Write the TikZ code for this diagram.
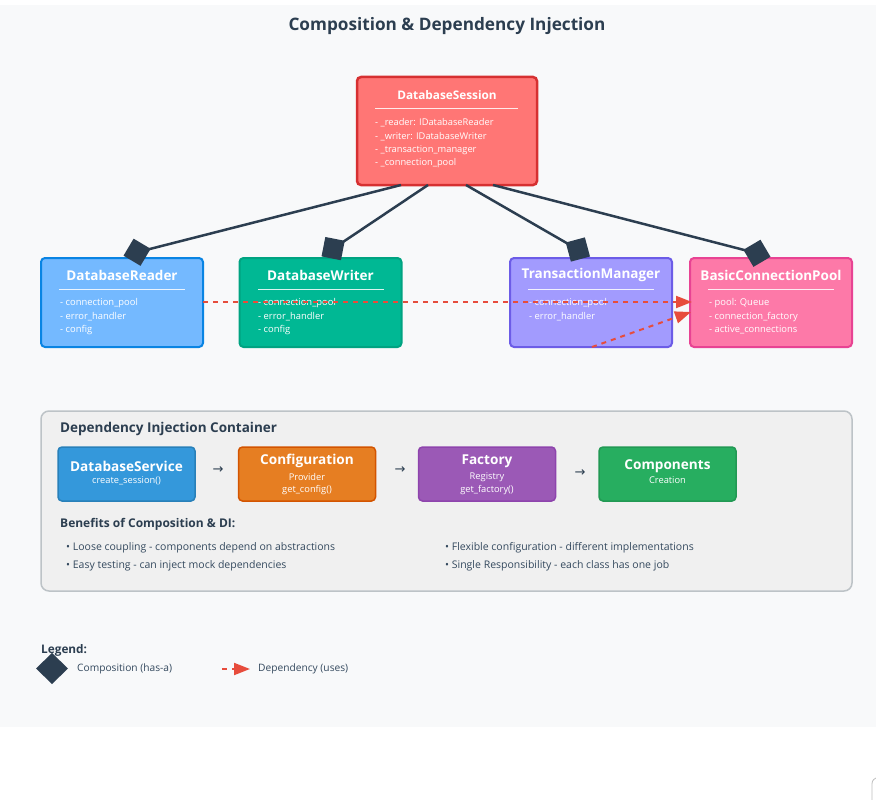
\documentclass[tikz,border=0pt]{standalone}
\usepackage{fontspec}
\setmainfont{Open Sans}
\newfontfamily\symfont{DejaVu Sans}
\usetikzlibrary{arrows.meta}
\definecolor{panel}{HTML}{F8F9FA}
\definecolor{ink}{HTML}{2C3E50}
\definecolor{txt}{HTML}{34495E}
\definecolor{sessF}{HTML}{FF7675}\definecolor{sessD}{HTML}{D63031}
\definecolor{readF}{HTML}{74B9FF}\definecolor{readD}{HTML}{0984E3}
\definecolor{writF}{HTML}{00B894}\definecolor{writD}{HTML}{00A381}
\definecolor{tranF}{HTML}{A29BFE}\definecolor{tranD}{HTML}{6C5CE7}
\definecolor{poolF}{HTML}{FD79A8}\definecolor{poolD}{HTML}{E84393}
\definecolor{depC}{HTML}{E74C3C}
\definecolor{diF}{HTML}{F0F0F0}\definecolor{diD}{HTML}{BDC3C7}
\definecolor{svcF}{HTML}{3498DB}\definecolor{svcD}{HTML}{2980B9}
\definecolor{cfgF}{HTML}{E67E22}\definecolor{cfgD}{HTML}{D35400}
\definecolor{facF}{HTML}{9B59B6}\definecolor{facD}{HTML}{8E44AD}
\definecolor{cmpF}{HTML}{27AE60}\definecolor{cmpD}{HTML}{229954}
\begin{document}
\begin{tikzpicture}[x=1pt,y=-1pt,
  cls/.style={draw, line width=2pt, rounded corners=4pt, inner sep=0pt, minimum width=162pt, minimum height=89pt},
  ctitle/.style={font=\fontsize{13.5}{15}\selectfont\bfseries, text=white},
  item/.style={font=\fontsize{9.4}{11}\selectfont, text=white, anchor=west, inner sep=0pt},
  uline/.style={draw=white, line width=1pt, opacity=0.85},
  comp/.style={draw=ink, line width=2.5pt, -{Diamond[length=28pt,width=28pt]}},
  dep/.style={draw=depC, line width=2pt, dash pattern=on 5pt off 5pt, -{Triangle[length=16pt,width=12pt]}},
  dibox/.style={draw, line width=1.5pt, rounded corners=4pt, inner sep=0pt, minimum width=137pt, minimum height=54pt},
  dititle/.style={font=\fontsize{13.6}{15}\selectfont\bfseries, text=white, inner sep=0pt},
  disub/.style={font=\fontsize{9.3}{11}\selectfont, text=white, inner sep=0pt},
  flow/.style={font=\symfont\fontsize{13}{14}\selectfont, text=ink, inner sep=0pt},
  bullet/.style={font=\fontsize{10.5}{12}\selectfont, text=txt, anchor=west, inner sep=0pt},
  legtxt/.style={font=\fontsize{10.2}{12}\selectfont, text=txt, anchor=west, inner sep=0pt}
]
\useasboundingbox (0,0) rectangle (876,800);
\fill[white] (0,0) rectangle (876,800);
\fill[panel] (0,5) rectangle (876,727);
\draw[gray!50, line width=0.8pt] (876,778) .. controls (872,780) and (872,782) .. (872,786) -- (872,800);

% title
\node[font=\fontsize{17.2}{20}\selectfont\bfseries, text=ink] (title) at (447,26) {Composition \& Dependency Injection};

% class boxes
\node[cls, fill=sessF, draw=sessD, line width=2.5pt, minimum width=180pt, minimum height=108pt] (sess) at (447,131) {};
\node[ctitle, font=\fontsize{11.8}{14}\selectfont\bfseries] (sessT) at (447,95) {DatabaseSession};
\draw[uline] (375,108) -- (518,108);
\node[item, font=\fontsize{9.3}{11}\selectfont] (sessI1) at (375,123) {- \_reader: IDatabaseReader};
\node[item, font=\fontsize{9.3}{11}\selectfont] (sessI2) at (375,137) {- \_writer: IDatabaseWriter};
\node[item, font=\fontsize{9.3}{11}\selectfont] (sessI3) at (375,150) {- \_transaction\_manager};
\node[item, font=\fontsize{9.3}{11}\selectfont] (sessI4) at (375,163) {- \_connection\_pool};

\node[cls, fill=readF, draw=readD] (read) at (122,302.5) {};
\node[ctitle] (readT) at (122,275) {DatabaseReader};
\draw[uline] (59,289) -- (185,289);
\node[item] (readI1) at (60,303) {- connection\_pool};
\node[item] (readI2) at (60,317) {- error\_handler};
\node[item] (readI3) at (60,330) {- config};

\node[cls, fill=writF, draw=writD] (writ) at (320.5,302.5) {};
\node[ctitle] (writT) at (320.5,275) {DatabaseWriter};
\draw[uline] (258,289) -- (384,289);
\node[item] (writI1) at (258,303) {- connection\_pool};
\node[item] (writI2) at (258,317) {- error\_handler};
\node[item] (writI3) at (258,330) {- config};

\node[cls, fill=tranF, draw=tranD] (tran) at (591,302.5) {};
\node[ctitle] (tranT) at (591,275) {TransactionManager};
\draw[uline] (528,289) -- (654,289);
\node[item] (tranI1) at (529,303) {- connection\_pool};
\node[item] (tranI2) at (529,317) {- error\_handler};

\node[cls, fill=poolF, draw=poolD] (pool) at (771,302.5) {};
\node[ctitle] (poolT) at (771,275) {BasicConnectionPool};
\draw[uline] (708,289) -- (834,289);
\node[item] (poolI1) at (709,303) {- pool: Queue};
\node[item] (poolI2) at (709,317) {- connection\_factory};
\node[item] (poolI3) at (709,330) {- active\_connections};

% composition connectors
\coordinate (s1) at (401,185); \coordinate (s2) at (428,185);
\coordinate (s3) at (466,185); \coordinate (s4) at (493,185);
\coordinate (r1) at (123.5,255.7); \coordinate (w1) at (321.5,256.4);
\coordinate (t1) at (590,256.5); \coordinate (p1) at (770.5,256.8);
\draw[comp] (s1) -- (r1);
\draw[comp] (s2) -- (w1);
\draw[comp] (s3) -- (t1);
\draw[comp] (s4) -- (p1);

% dependency connectors
\coordinate (rd) at (203,302); \coordinate (pd1) at (692,302);
\coordinate (td) at (592,347); \coordinate (pd2) at (691,312);
\draw[dep] (rd) -- (pd1);
\draw[dep] (td) -- (pd2);

% DI container
\node[draw=diD, fill=diF, line width=1.5pt, rounded corners=8pt, minimum width=811pt, minimum height=180pt, inner sep=0pt] (di) at (446.5,501) {};
\node[font=\fontsize{13.5}{15}\selectfont\bfseries, text=ink, anchor=west, inner sep=0pt] (diT) at (60,429) {Dependency Injection Container};

\node[dibox, fill=svcF, draw=svcD] (svc) at (126.5,474) {};
\node[dititle] (svcT) at (126.5,466) {DatabaseService};
\node[disub] (svcS) at (126.5,480.5) {create\_session()};
\node[flow] (a1) at (218,470) {→};
\node[dibox, fill=cfgF, draw=cfgD] (cfg) at (307,474) {};
\node[dititle] (cfgT) at (307,461) {Configuration};
\node[disub] (cfgS1) at (307,477) {Provider};
\node[disub] (cfgS2) at (307,490.5) {get\_config()};
\node[flow] (a2) at (400,470) {→};
\node[dibox, fill=facF, draw=facD] (fac) at (487,474) {};
\node[dititle] (facT) at (487,461) {Factory};
\node[disub] (facS1) at (487,477) {Registry};
\node[disub] (facS2) at (487,490.5) {get\_factory()};
\node[flow] (a3) at (580,473) {→};
\node[dibox, fill=cmpF, draw=cmpD] (cmp) at (667.5,474) {};
\node[dititle] (cmpT) at (667.5,466) {Components};
\node[disub] (cmpS) at (667.5,480.5) {Creation};

\node[font=\fontsize{12}{14}\selectfont\bfseries, text=ink, anchor=west, inner sep=0pt] (benT) at (60,524) {Benefits of Composition \& DI:};
\node[bullet] (b1) at (66,548) {• Loose coupling - components depend on abstractions};
\node[bullet] (b2) at (66,566) {• Easy testing - can inject mock dependencies};
\node[bullet] (b3) at (445,548) {• Flexible configuration - different implementations};
\node[bullet] (b4) at (445,566) {• Single Responsibility - each class has one job};

% legend
\fill[ink] (36,668.5) -- (52,653) -- (68,668.5) -- (52,684) -- cycle;
\node[font=\fontsize{11.8}{14}\selectfont\bfseries, text=ink, anchor=west, inner sep=0pt] (legT) at (41,650) {Legend:};
\node[legtxt] (legC) at (77,669) {Composition (has-a)};
\coordinate (ld1) at (222,669); \coordinate (ld2) at (250,669);
\draw[dep] (ld1) -- (ld2);
\node[legtxt] (legD) at (258,669) {Dependency (uses)};
\end{tikzpicture}
\end{document}
